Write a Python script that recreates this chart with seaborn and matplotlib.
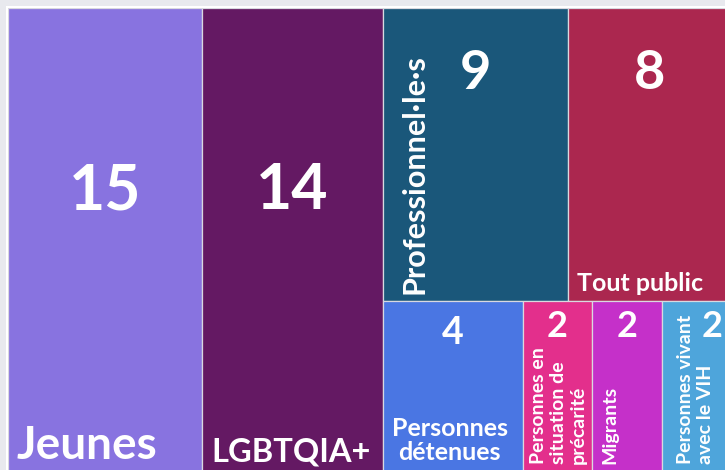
import matplotlib
matplotlib.use("Agg")
import matplotlib.pyplot as plt
from matplotlib.patches import Rectangle
import seaborn as sns

# Audience groups and number of actions for each
categories = ["Jeunes", "LGBTQIA+", "Professionnel·le·s", "Tout public",
              "Personnes détenues", "Personnes en situation de précarité",
              "Migrants", "Personnes vivant avec le VIH"]
values = [15, 14, 9, 8, 4, 2, 2, 2]
display_names = ["Jeunes", "LGBTQIA+", "Professionnel·le·s", "Tout public",
                 "Personnes\ndétenues", "Personnes en\nsituation de\nprécarité",
                 "Migrants", "Personnes vivant\navec le VIH"]
colors = ["#8873e0", "#641963", "#1a577a", "#ab274f",
          "#4a76e3", "#e32f8c", "#c530c9", "#4ea5db"]

# Nesting of the treemap: columns, then rows inside the last column
layout = [0, 1, [[2, 3], [4, 5, 6, 7]]]

W, H = 724.0, 465.0

sns.set_theme(style="white")
plt.rcParams["font.family"] = ["Lato", "DejaVu Sans"]
plt.rcParams["font.weight"] = "bold"


def node_total(node):
    if isinstance(node, int):
        return values[node]
    return sum(node_total(c) for c in node)


rects = {}


def place(node, x, y, w, h, horizontal):
    if isinstance(node, int):
        rects[node] = (x, y, w, h)
        return
    s = node_total(node)
    off = 0.0
    for child in node:
        frac = node_total(child) / s
        if horizontal:
            place(child, x + off * w, y, w * frac, h, not horizontal)
        else:
            place(child, x, y + off * h, w, h * frac, not horizontal)
        off += frac


place(layout, 0.0, 0.0, W, H, True)

fig = plt.figure(figsize=(7.25, 4.70), dpi=100)
fig.patch.set_facecolor("#e8e9ee")
# white frame behind the plot area
frame_ax = fig.add_axes([6 / 725, 0, 1, 464 / 470], zorder=-5)
frame_ax.axis("off")
frame_ax.add_patch(Rectangle((0, 0), 1, 1, transform=frame_ax.transAxes,
                             facecolor="white", edgecolor="none"))

ax = fig.add_axes([8 / 725, -3 / 470, W / 725, H / 470], zorder=1)
ax.set_xlim(0, W)
ax.set_ylim(H, 0)
ax.axis("off")

palette = sns.color_palette(colors)
for i, c in enumerate(palette):
    x, y, w, h = rects[i]
    ax.add_patch(Rectangle((x, y), w, h, facecolor=c, edgecolor="#d9d9e0",
                           linewidth=0.9))

# value label: (x fraction of cell width, offset from cell top, size)
value_style = [(0.5, 183, 45), (0.5, 183, 45), (0.5, 66, 39), (0.5, 66, 39),
               (0.5, 32, 27), (0.5, 26, 26), (0.5, 26, 26), (0.72, 26, 26)]
for i, (fx, dy, size) in enumerate(value_style):
    x, y, w, h = rects[i]
    ax.text(x + fx * w, y + dy, str(values[i]), color="white",
            fontsize=size, fontweight="bold", ha="center", va="center")

# name labels
for i, name in enumerate(display_names):
    x, y, w, h = rects[i]
    kw = dict(color="white", fontweight="bold")
    if i == 0:
        ax.text(x + 9, y + h - 14, name, fontsize=33, ha="left",
                va="baseline", **kw)
    elif i == 1:
        ax.text(x + 9, y + h - 12, name, fontsize=23.5, ha="left",
                va="baseline", **kw)
    elif i == 2:
        ax.text(x + 32, y + h - 7, name, fontsize=22, rotation=90,
                ha="center", va="bottom", **kw)
    elif i == 3:
        ax.text(x + 9, y + h - 10, name, fontsize=18, ha="left",
                va="baseline", **kw)
    elif i == 4:
        ax.text(x + w / 2 - 3, y + h - 9, name, fontsize=18, ha="center",
                va="bottom", multialignment="center", linespacing=1.05, **kw)
    elif i == 5:
        ax.text(x + 36, y + h - 9, name, fontsize=14, rotation=90,
                ha="center", va="bottom", multialignment="left",
                linespacing=1.2, **kw)
    elif i == 6:
        ax.text(x + 18, y + h - 9, name, fontsize=14, rotation=90,
                ha="center", va="bottom", **kw)
    else:
        ax.text(x + 33, y + h - 9, name, fontsize=14, rotation=90,
                ha="center", va="bottom", multialignment="left",
                linespacing=1.2, **kw)

fig.savefig("out.png", dpi=100, facecolor=fig.get_facecolor())
